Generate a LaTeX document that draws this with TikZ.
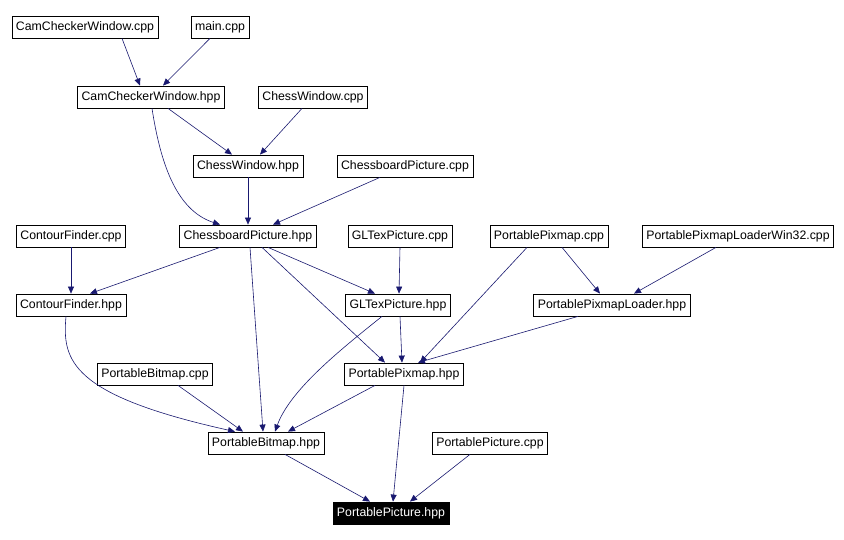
\documentclass[tikz,border=0pt]{standalone}
\usepackage{fontspec}
\setmainfont{Liberation Sans}
\usetikzlibrary{arrows.meta}
\definecolor{edge}{HTML}{191970}
\begin{document}
\begin{tikzpicture}[x=1pt,y=-1pt,
  n/.style={draw=black,line width=0.8pt,fill=white,minimum height=22pt,inner xsep=4pt,inner ysep=0pt,font=\fontsize{12.3}{13}\selectfont},
  e/.style={draw=edge,line width=0.6pt,-{Triangle[length=7pt,width=6pt]}}]
\useasboundingbox[fill=white] (0,0) rectangle (844,540);
\node[n] (ccwc) at (85,27) {CamCheckerWindow.cpp};
\node[n] (main) at (220,27) {main.cpp};
\node[n] (ccwh) at (151,97) {CamCheckerWindow.hpp};
\node[n] (cwc) at (313,97) {ChessWindow.cpp};
\node[n] (cwh) at (248,166) {ChessWindow.hpp};
\node[n] (cbpc) at (405,166) {ChessboardPicture.cpp};
\node[n] (cbph) at (248,236) {ChessboardPicture.hpp};
\node[n] (cfc) at (71,236) {ContourFinder.cpp};
\node[n] (glc) at (400,236) {GLTexPicture.cpp};
\node[n] (ppc) at (549,236) {PortablePixmap.cpp};
\node[n] (w32) at (738,236) {PortablePixmapLoaderWin32.cpp};
\node[n] (cfh) at (71,305) {ContourFinder.hpp};
\node[n] (glh) at (398,305) {GLTexPicture.hpp};
\node[n] (pplh) at (612,305) {PortablePixmapLoader.hpp};
\node[n] (pbc) at (155,374) {PortableBitmap.cpp};
\node[n] (pph) at (404,374) {PortablePixmap.hpp};
\node[n] (pbh) at (266,443) {PortableBitmap.hpp};
\node[n] (picc) at (490,443) {PortablePicture.cpp};
\node[n,fill=black,text=white] (pich) at (391,513) {PortablePicture.hpp};

\draw[e] ([xshift=37]ccwc.south) -- ([xshift=-11]ccwh.north);
\draw[e] ([xshift=-10]main.south) -- ([xshift=12]ccwh.north);
\draw[e] ([xshift=17]ccwh.south) -- ([xshift=-16]cwh.north);
\draw[e] ([xshift=1]ccwh.south) .. controls (160,160) and (175,210) .. ([xshift=-28]cbph.north);
\draw[e] ([xshift=-11]cwc.south) -- ([xshift=12]cwh.north);
\draw[e] (cwh.south) -- (cbph.north);
\draw[e] ([xshift=-25]cbpc.south) -- ([xshift=25]cbph.north);
\draw[e] ([xshift=-28]cbph.south) -- ([xshift=19]cfh.north);
\draw[e] ([xshift=20]cbph.south) -- ([xshift=-23]glh.north);
\draw[e] ([xshift=2]cbph.south) -- ([xshift=-3]pbh.north);
\draw[e] ([xshift=14]cbph.south) -- ([xshift=-19]pph.north);
\draw[e] (cfc.south) -- (cfh.north);
\draw[e] (glc.south) -- ([xshift=1]glh.north);
\draw[e] ([xshift=-22]ppc.south) -- ([xshift=16]pph.north);
\draw[e] ([xshift=13]ppc.south) -- ([xshift=-12]pplh.north);
\draw[e] ([xshift=-22]w32.south) -- ([xshift=22]pplh.north);
\draw[e] ([xshift=-5]cfh.south) .. controls (62,360) and (70,395) .. ([xshift=-31]pbh.north);
\draw[e] ([xshift=-16]glh.south) .. controls (340,350) and (290,390) .. ([xshift=9]pbh.north);
\draw[e] ([xshift=2]glh.south) -- ([xshift=-2]pph.north);
\draw[e] ([xshift=-34]pplh.south) -- ([xshift=14]pph.north);
\draw[e] ([xshift=23]pbc.south) -- ([xshift=-23]pbh.north);
\draw[e] ([xshift=-29]pph.south) -- ([xshift=22]pbh.north);
\draw[e] ([xshift=19]pbh.south) -- ([xshift=-21]pich.north);
\draw[e] (pph.south) -- ([xshift=2]pich.north);
\draw[e] ([xshift=-20]picc.south) -- ([xshift=19]pich.north);
\end{tikzpicture}
\end{document}
